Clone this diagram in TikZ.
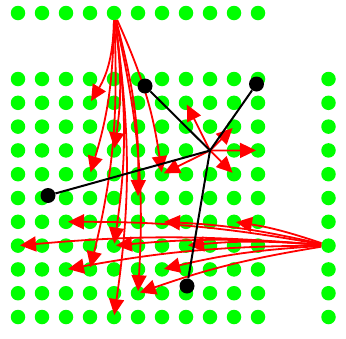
\documentclass[tikz,border=0pt]{standalone}
\usetikzlibrary{arrows.meta}
\begin{document}
\begin{tikzpicture}[x=1pt,y=-1pt,
  gdot/.style={circle,fill=green,inner sep=0pt,minimum size=14.5pt},
  bdot/.style={circle,fill=black,inner sep=0pt,minimum size=15pt},
  rarr/.style={draw=red,line width=1.8pt,shorten >=2pt,-{Triangle[length=16pt,width=15pt]}},
  bline/.style={draw=black,line width=2pt}]
\useasboundingbox (0,0) rectangle (346,338);
% top row
\foreach \c in {0,...,10}{\node[gdot] (t-\c) at ({18+24*\c},13) {};}
% main grid (no dot at the hub)
\foreach \c in {0,...,10}{\foreach \r in {0,...,10}{%
  \ifnum\numexpr\c*100+\r\relax=803\relax\else
  \node[gdot] (g-\c-\r) at ({18+24*\c},{79+23.8*\r}) {};\fi}}
% right column
\foreach \r in {0,...,10}{\node[gdot] (rc-\r) at (328.5,{79+23.8*\r}) {};}
\coordinate (hub) at (210,150.5);
% red arrows from top source
\draw[rarr] (t-4) to[bend left=15] (g-3-1.center);
\foreach \c/\r in {3/4,4/3,6/4,5/5,3/8,5/9,4/10,4/7}
  {\draw[rarr] (t-4) to[bend left=8] (g-\c-\r.center);}
% red arrows from hub
\foreach \c/\r in {7/1,9/2,10/3,9/4,6/4}
  {\draw[rarr] (hub) -- (g-\c-\r.center);}
% red arrows from right source
\foreach \c/\r in {2/6,6/6,9/6,0/7,4/7,7/7,2/8,6/8,5/9}
  {\draw[rarr] (rc-7) to[bend right=5] (g-\c-\r.center);}
% black nodes and lines
\node[bdot] (b1) at (145,86) {};
\node[bdot] (b2) at (256.5,84) {};
\node[bdot] (b3) at (48,195.5) {};
\node[bdot] (b4) at (187,286) {};
\foreach \b in {b1,b2,b3,b4}{\draw[bline] (hub) -- (\b);}
\end{tikzpicture}
\end{document}
